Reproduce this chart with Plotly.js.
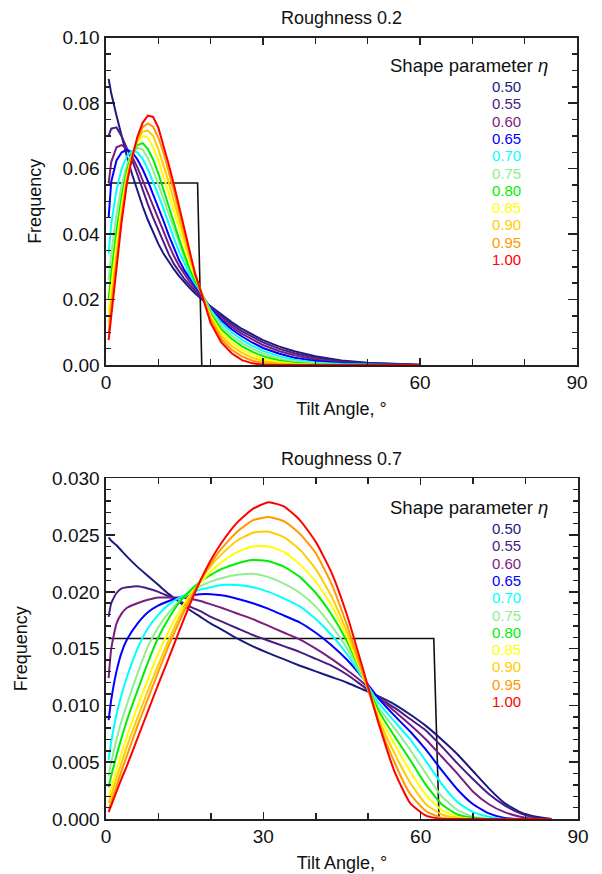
<!DOCTYPE html>
<html>
<head>
<meta charset="utf-8">
<script src="https://cdn.plot.ly/plotly-3.0.1.min.js"></script>
<style>html,body{margin:0;padding:0;background:#fff;}#chart{width:602px;height:874px;}</style>
</head>
<body>
<div id="chart"></div>
<script>
// ---------- data ----------
const etaLabels = ['0.50','0.55','0.60','0.65','0.70','0.75','0.80','0.85','0.90','0.95','1.00'];
const etaColors = ['#1b1b7e','#4a1d86','#7b1c80','#0000ff','#00ffff','#90ee90','#00ee00','#ffff00','#ffcc00','#ff9900','#ff0000'];

// Roughness 0.2 (tilt angle in degrees)
const angleTop = [0.5,1,2,3,4,5,6,7,8,9,10,11,12,13,14,15,16,17,18,19,20,22,24,26,28,30,33,36,40,45,50,55,60];
const top050 = [0.0874,0.0830,0.0762,0.0698,0.0637,0.0582,0.0531,0.0485,0.0443,0.0405,0.0370,0.0340,0.0315,0.0292,0.0271,0.0252,0.0235,0.0219,0.0204,0.0191,0.0179,0.0154,0.0131,0.0110,0.0092,0.0076,0.0057,0.0042,0.0027,0.0014,0.0007,0.0003,0.0001];
const top055 = [0.0700,0.0722,0.0726,0.0698,0.0662,0.0625,0.0582,0.0535,0.0491,0.0450,0.0412,0.0375,0.0338,0.0308,0.0283,0.0262,0.0244,0.0227,0.0211,0.0194,0.0177,0.0149,0.0124,0.0103,0.0085,0.0069,0.0050,0.0036,0.0022,0.0011,0.0005,0.0002,0.0001];
const top060 = [0.0556,0.0620,0.0665,0.0672,0.0660,0.0636,0.0604,0.0566,0.0526,0.0486,0.0447,0.0408,0.0368,0.0332,0.0302,0.0276,0.0254,0.0235,0.0218,0.0196,0.0174,0.0143,0.0117,0.0095,0.0077,0.0061,0.0043,0.0030,0.0017,0.0008,0.0003,0.0001,0];
const top065 = [0.0450,0.0560,0.0625,0.0650,0.0657,0.0650,0.0628,0.0598,0.0562,0.0523,0.0483,0.0440,0.0396,0.0355,0.0319,0.0289,0.0264,0.0242,0.0223,0.0198,0.0172,0.0137,0.0109,0.0087,0.0068,0.0052,0.0035,0.0022,0.0012,0.0005,0.0002,0.0001,0];
const top070 = [0.0340,0.0430,0.0535,0.0600,0.0638,0.0655,0.0650,0.0630,0.0598,0.0560,0.0520,0.0476,0.0430,0.0386,0.0345,0.0308,0.0276,0.0249,0.0226,0.0197,0.0168,0.0129,0.0100,0.0077,0.0058,0.0043,0.0027,0.0016,0.0008,0.0003,0.0001,0,0];
const top075 = [0.0260,0.0340,0.0460,0.0550,0.0612,0.0648,0.0663,0.0658,0.0632,0.0595,0.0552,0.0506,0.0459,0.0412,0.0367,0.0326,0.0290,0.0258,0.0229,0.0195,0.0163,0.0120,0.0090,0.0067,0.0049,0.0035,0.0020,0.0011,0.0005,0.0001,0,0,0];
const top080 = [0.0200,0.0280,0.0410,0.0515,0.0595,0.0645,0.0672,0.0678,0.0660,0.0628,0.0585,0.0537,0.0486,0.0434,0.0383,0.0335,0.0292,0.0256,0.0229,0.0192,0.0157,0.0110,0.0080,0.0057,0.0040,0.0027,0.0014,0.0007,0.0002,0.0001,0,0,0];
const top085 = [0.0160,0.0240,0.0370,0.0490,0.0580,0.0642,0.0682,0.0700,0.0695,0.0665,0.0625,0.0577,0.0525,0.0470,0.0415,0.0362,0.0313,0.0270,0.0230,0.0190,0.0151,0.0100,0.0069,0.0047,0.0031,0.0019,0.0009,0.0004,0.0001,0,0,0,0];
const top090 = [0.0130,0.0200,0.0340,0.0470,0.0570,0.0640,0.0688,0.0713,0.0716,0.0700,0.0660,0.0612,0.0558,0.0500,0.0440,0.0381,0.0326,0.0276,0.0231,0.0186,0.0145,0.0090,0.0058,0.0037,0.0022,0.0012,0.0005,0.0002,0,0,0,0,0];
const top095 = [0.0100,0.0175,0.0320,0.0450,0.0560,0.0637,0.0693,0.0727,0.0738,0.0728,0.0695,0.0648,0.0592,0.0530,0.0465,0.0400,0.0338,0.0281,0.0231,0.0182,0.0138,0.0080,0.0047,0.0026,0.0013,0.0006,0.0002,0.0001,0,0,0,0,0];
const top100 = [0.0076,0.0150,0.0310,0.0440,0.0556,0.0635,0.0697,0.0740,0.0762,0.0758,0.0725,0.0672,0.0612,0.0550,0.0482,0.0412,0.0343,0.0280,0.0231,0.0178,0.0128,0.0070,0.0036,0.0015,0.0005,0.0001,0,0,0,0,0,0,0];
const stepTopX = [0.5,17.5,18.3];
const stepTopY = [0.0556,0.0556,0];

// Roughness 0.7
const angleBot = [0.5,1,2,3,4,6,8,10,12,14,16,18,20,22,25,28,31,34,37,40,43,46,49,52,55,58,61,64,67,70,73,76,79,82,85];
const bot050 = [0.0248,0.0245,0.0241,0.0236,0.0231,0.0222,0.0214,0.0206,0.0198,0.0191,0.0184,0.0178,0.0172,0.0167,0.0159,0.0152,0.0146,0.01405,0.0135,0.0130,0.0125,0.0120,0.0114,0.0108,0.0101,0.0092,0.0082,0.0070,0.0057,0.0042,0.0027,0.0014,0.0006,0.0002,0];
const bot055 = [0.0178,0.0190,0.0199,0.0203,0.0204,0.0205,0.0203,0.0200,0.0196,0.0192,0.0187,0.0183,0.0178,0.0174,0.0168,0.0162,0.0157,0.0152,0.0147,0.0141,0.0135,0.0127,0.0117,0.0107,0.0098,0.0088,0.0078,0.0064,0.0049,0.0035,0.0022,0.0012,0.0005,0.0001,0];
const bot060 = [0.0124,0.0150,0.0172,0.0181,0.0186,0.0190,0.0193,0.0195,0.0195,0.0195,0.0194,0.0192,0.0189,0.0186,0.0181,0.0176,0.0170,0.0164,0.0158,0.0150,0.0141,0.0131,0.0120,0.0107,0.0095,0.0083,0.0070,0.0055,0.0040,0.0024,0.0013,0.0006,0.0002,0,0];
const bot065 = [0.0087,0.0105,0.0130,0.0147,0.0158,0.0172,0.0182,0.0188,0.0192,0.0195,0.0197,0.0198,0.0198,0.0197,0.0194,0.0190,0.0185,0.0179,0.0173,0.0164,0.0153,0.0140,0.0124,0.0106,0.0091,0.0077,0.0061,0.0043,0.0026,0.0013,0.0005,0.0001,0,0,0];
const bot070 = [0.0052,0.0068,0.0092,0.0110,0.0125,0.0150,0.0168,0.0180,0.0189,0.0195,0.0199,0.0202,0.0204,0.0206,0.0206,0.0204,0.0200,0.0194,0.0187,0.0176,0.0162,0.0145,0.0124,0.0102,0.0086,0.0070,0.0051,0.0031,0.0015,0.0006,0.0002,0,0,0,0];
const bot075 = [0.0038,0.0050,0.0070,0.0087,0.0101,0.0128,0.0152,0.0169,0.0182,0.0192,0.0199,0.0205,0.0209,0.0212,0.0215,0.0216,0.0213,0.0207,0.0199,0.0187,0.0170,0.0150,0.0125,0.0098,0.0080,0.0061,0.0040,0.0020,0.0008,0.0002,0,0,0,0,0];
const bot080 = [0.0028,0.0038,0.0056,0.0072,0.0087,0.0113,0.0138,0.0160,0.0177,0.0191,0.0201,0.0209,0.0215,0.0220,0.0225,0.0228,0.0227,0.0222,0.0213,0.0199,0.0180,0.0156,0.0126,0.0095,0.0073,0.0052,0.0030,0.0013,0.0004,0.0001,0,0,0,0,0];
const bot085 = [0.0019,0.0027,0.0043,0.0058,0.0073,0.0099,0.0123,0.0146,0.0166,0.0183,0.0197,0.0208,0.0218,0.0226,0.0235,0.0240,0.0240,0.0235,0.0224,0.0209,0.0188,0.0160,0.0126,0.0091,0.0066,0.0042,0.0021,0.0008,0.0002,0,0,0,0,0,0];
const bot090 = [0.0014,0.0021,0.0036,0.0050,0.0064,0.0089,0.0113,0.0136,0.0158,0.0178,0.0195,0.0210,0.0223,0.0233,0.0245,0.0252,0.0253,0.0248,0.0237,0.0220,0.0196,0.0164,0.0127,0.0088,0.0058,0.0032,0.0013,0.0004,0.0001,0,0,0,0,0,0];
const bot095 = [0.0009,0.0015,0.0029,0.0043,0.0056,0.0082,0.0106,0.0130,0.0153,0.0174,0.0193,0.0210,0.0225,0.0238,0.0253,0.0263,0.0266,0.0262,0.0251,0.0234,0.0207,0.0170,0.0128,0.0085,0.0050,0.0022,0.0007,0.0001,0,0,0,0,0,0,0];
const bot100 = [0.0006,0.0012,0.0024,0.0036,0.0047,0.0071,0.0095,0.0119,0.0142,0.0166,0.0189,0.0210,0.0228,0.0243,0.0261,0.0273,0.0279,0.0275,0.0263,0.0244,0.0217,0.0179,0.0132,0.0084,0.0042,0.0014,0.0003,0,0,0,0,0,0,0,0];
const stepBotX = [0.5,62.5,63.5];
const stepBotY = [0.0159,0.0159,0];

// ---------- build ----------
const topSeries = [top050,top055,top060,top065,top070,top075,top080,top085,top090,top095,top100];
const botSeries = [bot050,bot055,bot060,bot065,bot070,bot075,bot080,bot085,bot090,bot095,bot100];

const FONT = '"Liberation Sans", Arial, Helvetica, sans-serif';
const traces = [];
traces.push({x: stepTopX, y: stepTopY, xaxis:'x', yaxis:'y', mode:'lines', line:{color:'#111', width:1.6}, showlegend:false, hoverinfo:'skip'});
topSeries.forEach((s,i)=>traces.push({x: angleTop, y: s, xaxis:'x', yaxis:'y', mode:'lines', name: etaLabels[i], line:{color: etaColors[i], width:2}, showlegend:false}));
traces.push({x: stepBotX, y: stepBotY, xaxis:'x2', yaxis:'y2', mode:'lines', line:{color:'#111', width:1.6}, showlegend:false, hoverinfo:'skip'});
botSeries.forEach((s,i)=>traces.push({x: angleBot, y: s, xaxis:'x2', yaxis:'y2', mode:'lines', name: etaLabels[i], line:{color: etaColors[i], width:2, shape:'spline', smoothing:0.5}, showlegend:false}));

const W = 602, H = 874;
const axCommon = {
  showgrid:false, zeroline:false, showline:true, linecolor:'#222', linewidth:1.6,
  mirror:'allticks', ticks:'inside', tickcolor:'#222', tickwidth:1.5,
  tickfont:{family:FONT, size:19, color:'#111'}
};
function xax(domain, anchor){
  return Object.assign({}, axCommon, {
    domain: domain, anchor: anchor, range:[0,90], tickmode:'linear', tick0:0, dtick:30, ticklen:7,
    minor:{dtick:10, ticklen:6, tickwidth:1.5, tickcolor:'#222', ticks:'inside', showgrid:false},
    title:{text:'Tilt Angle, °', font:{family:FONT, size:18, color:'#111'}, standoff:10}
  });
}
function yax(domain, anchor, range, dtick, mdtick, fmt, standoff){
  return Object.assign({}, axCommon, {
    domain: domain, anchor: anchor, range: range, tickmode:'linear', tick0:0, dtick: dtick, ticklen:9, tickformat: fmt,
    ticklabelstandoff: 1,
    minor:{dtick: mdtick, ticklen:5, tickwidth:1.5, tickcolor:'#222', ticks:'inside', showgrid:false},
    title:{text:'Frequency', font:{family:FONT, size:18, color:'#111'}, standoff: standoff}
  });
}

const layout = {
  width: W, height: H, margin:{l:0, r:0, t:0, b:0},
  paper_bgcolor:'#fff', plot_bgcolor:'#fff', showlegend:false,
  font:{family:FONT, size:18, color:'#111'},
  xaxis: xax([106/W, 577/W], 'y'),
  yaxis: yax([1-365/H, 1-37.7/H], 'x', [0,0.1], 0.02, 0.005, '.2f', 16),
  xaxis2: xax([106/W, 578/W], 'y2'),
  yaxis2: yax([1-819/H, 1-478.3/H], 'x2', [0,0.03], 0.005, 0.001, '.3f', 20),
  annotations: []
};

const ann = layout.annotations;
ann.push({text:'Roughness 0.2', xref:'paper', yref:'paper', x:(106+577)/2/W, y:1-18/H, xanchor:'center', yanchor:'middle', showarrow:false, font:{family:FONT, size:18, color:'#111'}});
ann.push({text:'Roughness 0.7', xref:'paper', yref:'paper', x:(106+578)/2/W, y:1-459/H, xanchor:'center', yanchor:'middle', showarrow:false, font:{family:FONT, size:18, color:'#111'}});
ann.push({text:'Shape parameter <i>η</i>', xref:'x domain', yref:'y domain', x:0.9427, y:(365-66)/327.3, xanchor:'right', yanchor:'middle', showarrow:false, font:{family:FONT, size:18.5, color:'#111'}});
ann.push({text:'Shape parameter <i>η</i>', xref:'x2 domain', yref:'y2 domain', x:0.9407, y:(819-507)/340.7, xanchor:'right', yanchor:'middle', showarrow:false, font:{family:FONT, size:18.5, color:'#111'}});

// one stacked, colour-coded block of η values per panel
const LSP = 17.3;              // line spacing in px
const firstTop = 86, firstBot = 528;
const etaBlock = etaLabels.map((lab,i)=>'<span style="color:'+etaColors[i]+';font-size:15px">'+lab+'</span>').join('<br>');
const blockSpan = LSP*(etaLabels.length-1);
ann.push({text:etaBlock, xref:'x domain', yref:'y domain', x:0.8826, y:(365-(firstTop+blockSpan/2))/327.3, xanchor:'right', yanchor:'middle', align:'right', showarrow:false, borderpad:0, font:{family:FONT, size:LSP/1.3, color:'#111'}});
ann.push({text:etaBlock, xref:'x2 domain', yref:'y2 domain', x:0.8807, y:(819-(firstBot+blockSpan/2))/340.7, xanchor:'right', yanchor:'middle', align:'right', showarrow:false, borderpad:0, font:{family:FONT, size:LSP/1.3, color:'#111'}});

Plotly.newPlot('chart', traces, layout, {staticPlot:true, displayModeBar:false});
</script>
</body>
</html>
